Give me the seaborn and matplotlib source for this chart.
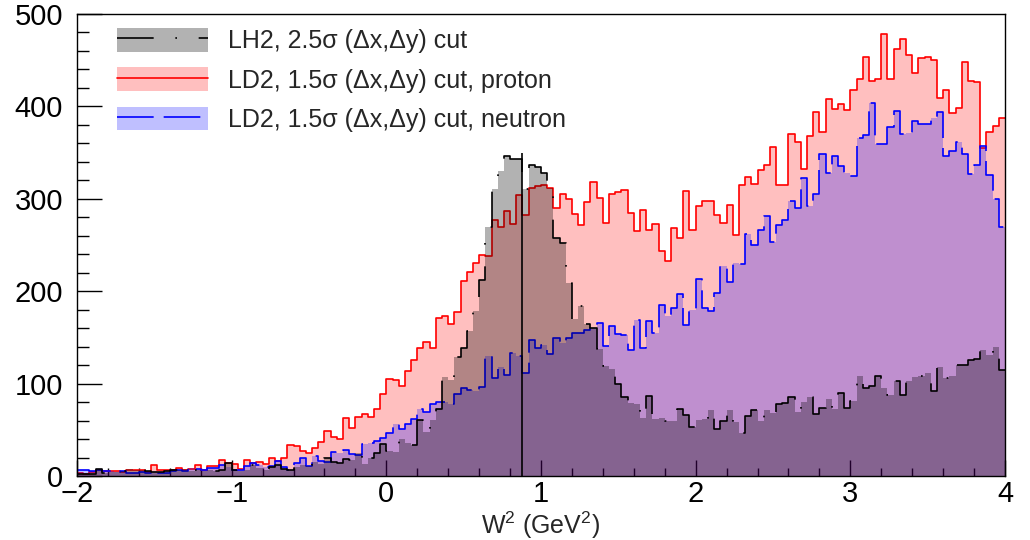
import numpy as np
import pandas as pd
import matplotlib
matplotlib.use("Agg")
import matplotlib.pyplot as plt
import seaborn as sns
from matplotlib.patches import Patch
from matplotlib.lines import Line2D
from matplotlib.colors import to_rgba
from matplotlib.ticker import MultipleLocator

# ---------------- data ----------------
W2_MIN, W2_MAX, N_BINS = -2.0, 4.0, 150

lh2 = [2, 2, 2, 8, 3, 4, 4, 5, 8, 6, 7, 5, 4, 4, 5, 6, 6, 8, 5, 6, 5, 7, 5, 6, 14,
       6, 5, 7, 12, 9, 7, 10, 12, 8, 7, 10, 12, 11, 15, 13, 19, 15, 14, 18, 17, 25, 13, 19, 25, 35,
       27, 26, 40, 36, 34, 61, 48, 61, 72, 107, 104, 129, 139, 157, 179, 212, 269, 311, 330, 346, 343, 343, 311, 337, 334,
       328, 312, 258, 252, 209, 170, 184, 164, 160, 137, 119, 116, 100, 85, 79, 78, 63, 87, 62, 63, 60, 59, 72, 66, 53,
       61, 62, 71, 51, 60, 71, 58, 46, 65, 71, 59, 71, 68, 78, 79, 85, 69, 80, 86, 67, 74, 83, 73, 90, 74,
       81, 108, 95, 97, 108, 95, 88, 103, 88, 103, 107, 108, 111, 92, 118, 106, 108, 120, 120, 126, 127, 136, 131, 140, 115]

ld2_proton = [3, 2, 4, 7, 5, 5, 5, 4, 6, 7, 6, 4, 12, 7, 6, 7, 9, 6, 8, 12, 7, 11, 11, 17, 14,
              13, 8, 17, 14, 15, 13, 19, 16, 19, 34, 33, 27, 25, 30, 37, 49, 42, 40, 63, 52, 64, 67, 64, 72, 89,
              105, 104, 97, 114, 126, 139, 145, 138, 171, 173, 164, 178, 211, 221, 230, 239, 238, 277, 270, 287, 273, 304, 282, 312, 314,
              315, 312, 290, 305, 300, 284, 272, 297, 318, 301, 274, 305, 307, 309, 285, 265, 288, 266, 273, 243, 233, 268, 258, 308, 266,
              292, 298, 298, 282, 274, 293, 261, 315, 324, 316, 331, 337, 356, 315, 315, 370, 361, 332, 368, 394, 372, 408, 397, 403, 396,
              418, 430, 453, 428, 430, 478, 430, 462, 473, 456, 436, 452, 453, 450, 409, 418, 393, 398, 448, 427, 426, 355, 372, 379, 387]

ld2_neutron = [6, 6, 5, 7, 5, 5, 4, 5, 3, 3, 4, 3, 5, 3, 3, 5, 7, 5, 9, 8, 6, 9, 9, 12, 10,
               7, 7, 11, 14, 12, 10, 11, 16, 10, 7, 14, 20, 11, 22, 16, 15, 26, 25, 28, 24, 23, 35, 36, 38, 41,
               46, 56, 51, 56, 62, 72, 69, 78, 80, 80, 78, 89, 95, 93, 92, 96, 130, 106, 118, 109, 133, 130, 112, 147, 139,
               142, 132, 149, 144, 149, 155, 155, 158, 160, 166, 141, 162, 154, 153, 136, 169, 138, 168, 155, 185, 173, 182, 197, 163, 180,
               213, 182, 179, 198, 227, 210, 231, 229, 262, 250, 266, 281, 253, 272, 277, 298, 290, 322, 292, 305, 349, 328, 346, 335, 328,
               325, 366, 369, 404, 359, 359, 378, 395, 370, 371, 384, 381, 381, 387, 394, 346, 352, 361, 349, 327, 337, 357, 326, 300, 270]

labels = ["LH2, 2.5\u03c3 (\u0394x,\u0394y) cut",
          "LD2, 1.5\u03c3 (\u0394x,\u0394y) cut, proton",
          "LD2, 1.5\u03c3 (\u0394x,\u0394y) cut, neutron"]

PROTON_M2 = 0.880   # reference line
LINE_TOP = 350

# ---------------- style ----------------
sns.set_theme(style="white")
plt.rcParams['font.family'] = ['Liberation Sans', 'DejaVu Sans']
plt.rcParams['mathtext.fontset'] = 'custom'
plt.rcParams['mathtext.rm'] = 'Liberation Sans'
plt.rcParams['mathtext.it'] = 'Liberation Sans:italic'
plt.rcParams['axes.unicode_minus'] = True

edges = np.linspace(W2_MIN, W2_MAX, N_BINS + 1)
centers = 0.5 * (edges[:-1] + edges[1:])

fig = plt.figure(figsize=(10.3, 5.4), dpi=100)
ax = fig.add_axes([77 / 1030, 1 - 476 / 540, (1005 - 77) / 1030, (476 - 14) / 540])

series = [
    # (values, color, alpha, linestyle, zorder)
    (ld2_proton, "red", 0.25, "-", 1),
    (ld2_neutron, "blue", 0.25, (0, (22, 6)), 2),
    (lh2, "black", 0.30, (0, (22, 13, 1, 13)), 3),
]
LW = 1.2
for vals, col, a, ls, z in series:
    df = pd.DataFrame({"w2": centers, "n": vals})
    sns.histplot(data=df, x="w2", weights="n", bins=N_BINS, binrange=(W2_MIN, W2_MAX),
                 element="step", fill=True, color=col, alpha=a, linewidth=0, ax=ax, zorder=z)
    sns.histplot(data=df, x="w2", weights="n", bins=N_BINS, binrange=(W2_MIN, W2_MAX),
                 element="step", fill=False, color=col, linewidth=LW, linestyle=ls,
                 ax=ax, zorder=z + 0.5)

ax.vlines(PROTON_M2, 0, LINE_TOP, color="black", lw=1.2, zorder=5)

ax.set_xlim(W2_MIN, W2_MAX)
ax.set_ylim(0, 500)
ax.set_ylabel("")
ax.set_xlabel(r"W$^{2}$ (GeV$^{2}$)", fontsize=18, labelpad=1)

ax.xaxis.set_major_locator(MultipleLocator(1))
ax.xaxis.set_minor_locator(MultipleLocator(0.2))
ax.yaxis.set_major_locator(MultipleLocator(100))
ax.yaxis.set_minor_locator(MultipleLocator(20))
ax.tick_params(axis="both", which="both", direction="in", top=False, right=False,
               bottom=True, left=True, colors="black", labelsize=21)
ax.tick_params(axis="x", which="major", length=11.5, width=1, pad=3)
ax.tick_params(axis="x", which="minor", length=5.8, width=1)
ax.tick_params(axis="y", which="major", length=18, width=1, pad=10)
ax.tick_params(axis="y", which="minor", length=8.6, width=1)
for s in ax.spines.values():
    s.set_color("black")
    s.set_linewidth(1.0)
    s.set_visible(True)

# legend
leg_specs = [("black", 0.30, (0, (22, 13, 1, 13))),
             ("red", 0.25, "-"),
             ("blue", 0.25, (0, (22, 6)))]
handles = []
for col, a, ls in leg_specs:
    handles.append((Patch(facecolor=to_rgba(col, a), edgecolor="none"),
                    Line2D([], [], color=col, lw=LW, linestyle=ls)))
ax.legend(handles, labels, loc="upper left", bbox_to_anchor=(117 / 1030, 1 - 28 / 540),
          bbox_transform=fig.transFigure, frameon=False, fontsize=18,
          handlelength=3.65, handleheight=1.08, labelspacing=0.56, handletextpad=0.8,
          borderpad=0, borderaxespad=0)

fig.savefig("out.png", dpi=100)
